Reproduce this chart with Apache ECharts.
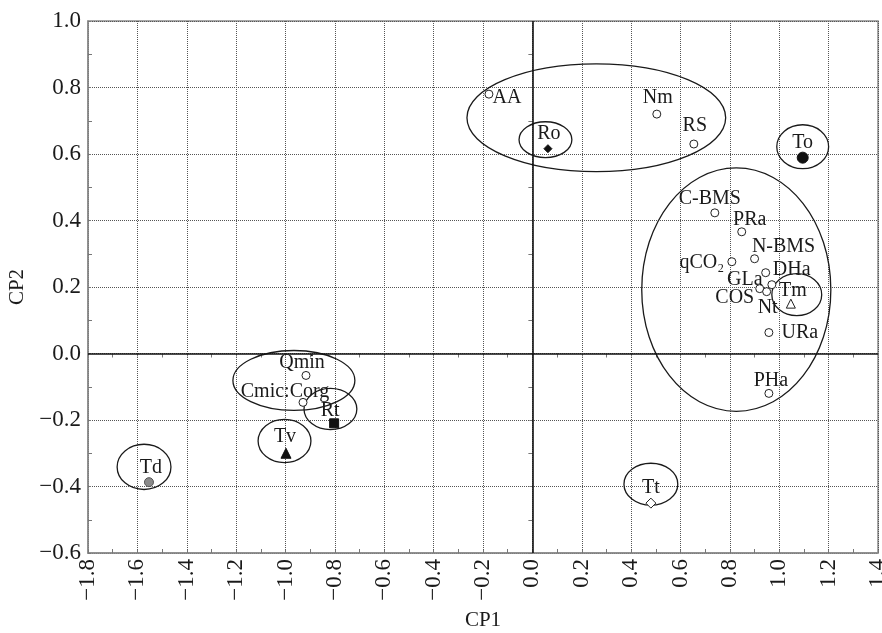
<!DOCTYPE html>
<html>
<head>
<meta charset="utf-8">
<script src="https://cdn.jsdelivr.net/npm/echarts@6/dist/echarts.min.js"></script>
<style>html,body{margin:0;padding:0;background:#fff}#c{width:882px;height:633px}</style>
</head>
<body>
<div id="c"></div>
<script>
// ---- data ----
const varNames = ['AA','Nm','RS','C-BMS','PRa','N-BMS','qCO₂','DHa','GLa','COS','Nt','URa','PHa','Qmin','Cmic:Corg'];
const varX = [-0.176, 0.504, 0.654, 0.739, 0.848, 0.900, 0.808, 0.945, 0.970, 0.921, 0.949, 0.958, 0.958, -0.917, -0.929];
const varY = [0.780, 0.720, 0.630, 0.423, 0.366, 0.285, 0.276, 0.243, 0.207, 0.195, 0.186, 0.063, -0.120, -0.066, -0.147];

const trtNames = ['Ro','To','Tm','Rt','Tv','Td','Tt'];
const trtX = [0.063, 1.095, 1.047, -0.803, -0.998, -1.553, 0.480];
const trtY = [0.616, 0.589, 0.150, -0.210, -0.300, -0.387, -0.450];

// ellipses (centre x, centre y, radius x, radius y) in axis units
const ellCx = [0.259, 0.053, 1.095, 0.826, 1.071, -0.966, -0.818, -1.004, -1.573, 0.480];
const ellCy = [0.709, 0.643, 0.622, 0.192, 0.177, -0.081, -0.167, -0.263, -0.341, -0.393];
const ellRx = [0.524, 0.107, 0.105, 0.383, 0.101, 0.247, 0.107, 0.107, 0.109, 0.109];
const ellRy = [0.162, 0.054, 0.066, 0.366, 0.063, 0.090, 0.062, 0.065, 0.068, 0.063];

const xMin = -1.8, xMax = 1.4, yMin = -0.6, yMax = 1.0, step = 0.2;

// ---- styling ----
const FONT = 'Liberation Serif';
const TXT = '#1a1a1a';
const labelOffset = {
  'AA':[18,4], 'Nm':[1,-16], 'RS':[1,-18], 'C-BMS':[-5,-14], 'PRa':[8,-12], 'N-BMS':[29,-12],
  'qCO₂':[-30,1], 'DHa':[26,-3], 'GLa':[-27,-5], 'COS':[-25,9], 'Nt':[1,16], 'URa':[31,0],
  'PHa':[2,-13], 'Qmin':[-4,-13], 'Cmic:Corg':[-18,-11],
  'Ro':[1,-15], 'To':[0,-15], 'Tm':[2,-13], 'Rt':[-4,-13], 'Tv':[-1,-17], 'Td':[2,-14], 'Tt':[0,-15]
};
const trtSymbol = {
  'Ro':{symbol:'diamond', size:8, fill:'#111', border:'#111'},
  'To':{symbol:'circle', size:11, fill:'#111', border:'#111'},
  'Tm':{symbol:'triangle', size:9, fill:'#fff', border:'#222'},
  'Rt':{symbol:'rect', size:9, fill:'#111', border:'#111'},
  'Tv':{symbol:'triangle', size:10, fill:'#111', border:'#111'},
  'Td':{symbol:'circle', size:9, fill:'#8a8a8a', border:'#555'},
  'Tt':{symbol:'diamond', size:10, fill:'#fff', border:'#222'}
};
const fmt = v => { const s = (Math.abs(v) < 1e-9 ? 0 : v).toFixed(1); return s.replace('-', '\u2212'); };

function mkLabel(name){
  return {show:true, position:'inside', offset:labelOffset[name], formatter:name,
    fontFamily:FONT, fontSize:20, color:TXT, textBorderWidth:0, textShadowBlur:0, opacity:1};
}

const varData = varNames.map((n,i)=>({name:n, value:[varX[i],varY[i]], label:mkLabel(n)}));
const trtData = trtNames.map((n,i)=>{
  const s = trtSymbol[n];
  return {name:n, value:[trtX[i],trtY[i]], symbol:s.symbol, symbolSize:s.size,
    itemStyle:{color:s.fill, borderColor:s.border, borderWidth:1, opacity:1}, label:mkLabel(n)};
});
const ellData = ellCx.map((c,i)=>[c, ellCy[i], ellRx[i], ellRy[i]]);

const chart = echarts.init(document.getElementById('c'), null, {renderer:'canvas'});
chart.setOption({
  animation:false,
  backgroundColor:'#fff',
  grid:{left:88, right:4, top:21, bottom:80, show:true, borderColor:'#8a8a8a', borderWidth:1.5,
    backgroundColor:'transparent', containLabel:false, outerBoundsMode:'none'},
  xAxis:[{
    type:'value', min:xMin, max:xMax, interval:step, position:'bottom',
    name:'CP1', nameLocation:'middle', nameGap:57,
    nameTextStyle:{fontFamily:FONT, fontSize:21, color:TXT},
    axisLine:{show:true, onZero:false, lineStyle:{color:'#8a8a8a', width:1.5}},
    axisTick:{show:true, inside:true, length:3, lineStyle:{color:'#777'}},
    minorTick:{show:true, splitNumber:2, length:4, lineStyle:{color:'#777'}},
    axisLabel:{rotate:90, margin:6, fontFamily:FONT, fontSize:23, color:TXT, formatter:fmt},
    splitLine:{show:true, lineStyle:{color:'#555', type:[1,1], width:1}}
  },{
    type:'value', min:xMin, max:xMax, interval:step, position:'top',
    axisLine:{show:false}, axisLabel:{show:false}, splitLine:{show:false},
    axisTick:{show:true, inside:true, length:3, lineStyle:{color:'#777'}},
    minorTick:{show:true, splitNumber:2, length:4, lineStyle:{color:'#777'}}
  }],
  yAxis:[{
    type:'value', min:yMin, max:yMax, interval:step, position:'left',
    name:'CP2', nameLocation:'middle', nameGap:48, nameRotate:90,
    nameTextStyle:{fontFamily:FONT, fontSize:21, color:TXT},
    axisLine:{show:true, onZero:false, lineStyle:{color:'#8a8a8a', width:1.5}},
    axisTick:{show:true, inside:true, length:3, lineStyle:{color:'#777'}},
    minorTick:{show:true, splitNumber:2, length:4, lineStyle:{color:'#777'}},
    axisLabel:{margin:7, fontFamily:FONT, fontSize:23, color:TXT, formatter:fmt},
    splitLine:{show:true, lineStyle:{color:'#555', type:[1,1], width:1}}
  },{
    type:'value', min:yMin, max:yMax, interval:step, position:'right',
    axisLine:{show:false}, axisLabel:{show:false}, splitLine:{show:false},
    axisTick:{show:true, inside:true, length:3, lineStyle:{color:'#777'}},
    minorTick:{show:true, splitNumber:2, length:4, lineStyle:{color:'#777'}}
  }],
  series:[{
    type:'custom', name:'ellipses', z:3, silent:true,
    data:ellData,
    renderItem:function(params, api){
      const c = api.coord([api.value(0), api.value(1)]);
      const sz = api.size([api.value(2), api.value(3)]);
      return {type:'ellipse', shape:{cx:c[0], cy:c[1], rx:sz[0], ry:sz[1]},
        style:{fill:'none', stroke:'#1a1a1a', lineWidth:1.3}};
    },
    markLine:{
      silent:true, symbol:'none', label:{show:false},
      lineStyle:{color:'#111', type:'solid', width:1.6},
      data:[{xAxis:0},{yAxis:0}]
    }
  },{
    type:'scatter', name:'variables', z:5,
    symbol:'circle', symbolSize:8,
    itemStyle:{color:'#fff', borderColor:'#222', borderWidth:1, opacity:1},
    data:varData
  },{
    type:'scatter', name:'treatments', z:6,
    itemStyle:{opacity:1},
    data:trtData
  }]
});
</script>
</body>
</html>
